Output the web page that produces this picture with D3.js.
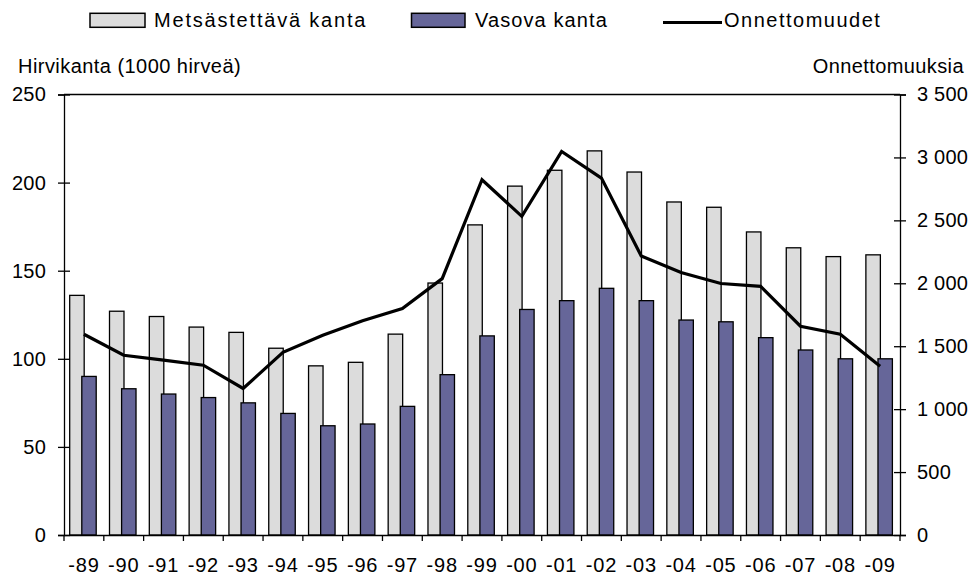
<!DOCTYPE html>
<html>
<head>
<meta charset="utf-8">
<script src="https://cdn.jsdelivr.net/npm/d3@7"></script>
<style>
  body { margin: 0; background: #fff; }
  svg text { font-family: 'Liberation Sans', Arial, sans-serif; fill: #000; }
</style>
</head>
<body>
<div id="chart"></div>
<script>
// years on the x axis
const years = ['-89', '-90', '-91', '-92', '-93', '-94', '-95', '-96', '-97', '-98', '-99',
  '-00', '-01', '-02', '-03', '-04', '-05', '-06', '-07', '-08', '-09']

// moose population, 1000 animals (left axis)
const huntable = [136, 127, 124, 118, 115, 106, 96, 98, 114, 143, 176,
  198, 207, 218, 206, 189, 186, 172, 163, 158, 159]
const calving = [90, 83, 80, 78, 75, 69, 62, 63, 73, 91, 113,
  128, 133, 140, 133, 122, 121, 112, 105, 100, 100]

// accidents (right axis)
const accidents = [1595, 1428, 1389, 1349, 1164, 1452, 1587, 1703, 1799, 2037, 2823,
  2532, 3048, 2836, 2217, 2085, 1998, 1976, 1659, 1595, 1341]

const leftTicks = [0, 50, 100, 150, 200, 250]
const rightTicks = [0, 500, 1000, 1500, 2000, 2500, 3000, 3500]

const legendLabels = ['Metsästettävä kanta', 'Vasova kanta', 'Onnettomuudet']
const leftTitle = 'Hirvikanta (1000 hirveä)'
const rightTitle = 'Onnettomuuksia'

const width = 977
const height = 575
const margin = { top: 94.5, right: 77, bottom: 40, left: 64 }

const grayFill = '#dcdcdc'
const blueFill = '#666699'

const fi = d3.formatLocale({ decimal: ',', thousands: '\u00a0', grouping: [3], currency: ['', ''] })
const fmt = fi.format(',d')

const svg = d3.select('#chart').append('svg')
  .attr('width', width)
  .attr('height', height)

const x = d3.scaleBand()
  .domain(years)
  .range([margin.left, width - margin.right])
  .padding(0)

const yLeft = d3.scaleLinear()
  .domain([0, 250])
  .range([height - margin.bottom, margin.top])

const yRight = d3.scaleLinear()
  .domain([0, 3500])
  .range([height - margin.bottom, margin.top])

const bw = x.bandwidth()

// gray bars (huntable population)
svg.append('g')
  .selectAll('rect')
  .data(huntable)
  .join('rect')
  .attr('x', (d, i) => x(years[i]) + bw * 0.143)
  .attr('y', d => yLeft(d))
  .attr('width', bw * 0.364)
  .attr('height', d => yLeft(0) - yLeft(d))
  .attr('fill', grayFill)
  .attr('stroke', '#000')
  .attr('stroke-width', 1.3)

// blue bars (calving population)
svg.append('g')
  .selectAll('rect')
  .data(calving)
  .join('rect')
  .attr('x', (d, i) => x(years[i]) + bw * 0.447)
  .attr('y', d => yLeft(d))
  .attr('width', bw * 0.362)
  .attr('height', d => yLeft(0) - yLeft(d))
  .attr('fill', blueFill)
  .attr('stroke', '#000')
  .attr('stroke-width', 1.3)

// accidents line
const line = d3.line()
  .x((d, i) => x(years[i]) + bw / 2)
  .y(d => yRight(d))

svg.append('path')
  .datum(accidents)
  .attr('d', line)
  .attr('fill', 'none')
  .attr('stroke', '#000')
  .attr('stroke-width', 3.2)

// top border of plot area
svg.append('line')
  .attr('x1', margin.left)
  .attr('x2', width - margin.right)
  .attr('y1', yLeft(250))
  .attr('y2', yLeft(250))
  .attr('stroke', '#000')
  .attr('stroke-width', 1.3)

// left axis, ticks cross the axis line
const gLeft = svg.append('g')
  .attr('transform', `translate(${margin.left},0)`)
  .call(d3.axisLeft(yLeft).tickValues(leftTicks).tickSizeOuter(0).tickSize(6).tickPadding(12))
gLeft.selectAll('.tick line').attr('x1', -6).attr('x2', 6)

// right axis
const gRight = svg.append('g')
  .attr('transform', `translate(${width - margin.right},0)`)
  .call(d3.axisRight(yRight).tickValues(rightTicks).tickFormat(fmt).tickSizeOuter(0).tickSize(6).tickPadding(11))
gRight.selectAll('.tick line').attr('x1', -6).attr('x2', 6)

// bottom axis, labels only
const gBottom = svg.append('g')
  .attr('transform', `translate(0,${height - margin.bottom})`)
  .call(d3.axisBottom(x).tickSize(0).tickPadding(22.5).tickSizeOuter(0))

// tick marks at the category boundaries
gBottom.selectAll('.bound')
  .data(d3.range(years.length + 1))
  .join('line')
  .attr('class', 'bound')
  .attr('x1', i => x.range()[0] + i * x.step())
  .attr('x2', i => x.range()[0] + i * x.step())
  .attr('y1', 0)
  .attr('y2', 6)
  .attr('stroke', '#000')
  .attr('stroke-width', 1.3)

svg.selectAll('.domain').attr('stroke', '#000').attr('stroke-width', 1.3)
svg.selectAll('.tick line').attr('stroke', '#000').attr('stroke-width', 1.3)
svg.selectAll('.tick text')
  .style('font-size', '20px')
  .attr('fill', '#000')
gLeft.selectAll('.tick text').style('letter-spacing', '0.2px')
gRight.selectAll('.tick text').style('letter-spacing', '0.2px')
gBottom.selectAll('.tick text').style('letter-spacing', '0.8px')

// axis titles
svg.append('text')
  .attr('x', 18)
  .attr('y', 72.5)
  .style('font-size', '20px')
  .style('letter-spacing', '0.45px')
  .text(leftTitle)

svg.append('text')
  .attr('x', 964)
  .attr('y', 72.5)
  .attr('text-anchor', 'end')
  .style('font-size', '20px')
  .style('letter-spacing', '0.4px')
  .text(rightTitle)

// legend
const legend = svg.append('g')

legend.append('rect')
  .attr('x', 90).attr('y', 13.3).attr('width', 55).attr('height', 14)
  .attr('fill', grayFill).attr('stroke', '#000').attr('stroke-width', 1.5)

legend.append('rect')
  .attr('x', 411.5).attr('y', 13.3).attr('width', 53.5).attr('height', 14)
  .attr('fill', blueFill).attr('stroke', '#000').attr('stroke-width', 1.5)

legend.append('line')
  .attr('x1', 663).attr('x2', 722).attr('y1', 22.5).attr('y2', 22.5)
  .attr('stroke', '#000').attr('stroke-width', 3.2)

legend.selectAll('.leg-text')
  .data(legendLabels)
  .join('text')
  .attr('class', 'leg-text')
  .attr('x', (d, i) => [154, 475, 724][i])
  .attr('y', 27.3)
  .style('font-size', '20px')
  .style('letter-spacing', (d, i) => ['1.8px', '1.1px', '1.5px'][i])
  .text(d => d)
</script>
</body>
</html>
